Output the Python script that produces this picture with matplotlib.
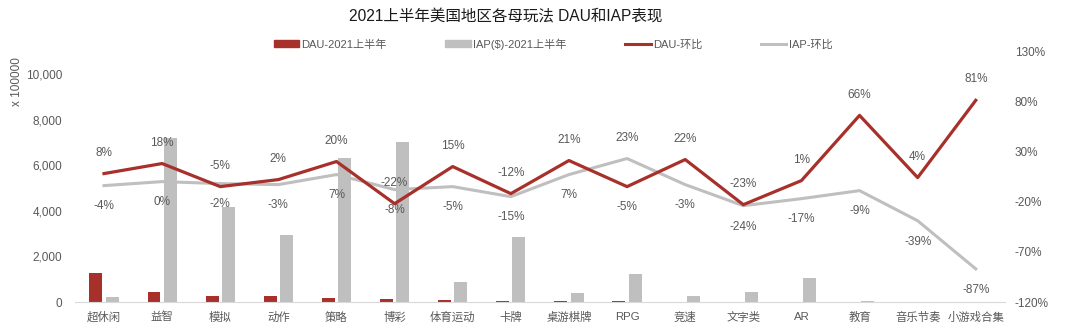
import numpy as np
import matplotlib
matplotlib.use("Agg")
import matplotlib.pyplot as plt
from matplotlib.lines import Line2D
from matplotlib.patches import Patch

plt.rcParams['font.family'] = ['Liberation Sans', 'Noto Sans CJK SC', 'DejaVu Sans']

# data
categories = ['超休闲', '益智', '模拟', '动作', '策略', '博彩', '体育运动', '卡牌',
              '桌游棋牌', 'RPG', '竞速', '文字类', 'AR', '教育', '音乐节奏', '小游戏合集']
dau = [1270, 440, 260, 250, 190, 145, 100, 50, 40, 40, 20, 10, 10, 5, 5, 3]
iap = [220, 7200, 4180, 2940, 6330, 7030, 890, 2840, 380, 1230, 280, 425, 1040, 30, 0, 0]
dau_qoq = [8, 18, -5, 2, 20, -22, 15, -12, 21, -5, 22, -23, 1, 66, 4, 81]
iap_qoq = [-4, 0, -2, -3, 7, -8, -5, -15, 7, 23, -3, -24, -17, -9, -39, -87]

red = '#A8302A'
gray = '#BFBFBF'
txt = '#595959'

fig = plt.figure(figsize=(10.8, 3.34), dpi=100)
ax = fig.add_axes([0.0694, 0.0958, 0.861, 0.751])
x = np.arange(len(categories))
w = 0.223

ax.bar(x - 0.14, dau, w, color=red, zorder=2)
ax.bar(x + 0.14, iap, w, color=gray, zorder=2)
ax.set_xlim(-0.5, 15.5)
ax.set_ylim(0, 11000)
ax.set_yticks(range(0, 10001, 2000))
ax.set_yticklabels([f'{v:,}' for v in range(0, 10001, 2000)])
ax.set_xticks(x)
ax.set_xticklabels(categories)
for s in ['top', 'right', 'left']:
    ax.spines[s].set_visible(False)
ax.spines['bottom'].set_color('#D9D9D9')
ax.tick_params(length=0, colors=txt, labelsize=8.5)
ax.tick_params(axis='y', pad=9)
ax.tick_params(axis='x', pad=7, labelsize=8.2)

ax2 = ax.twinx()
ax2.plot(x, dau_qoq, color=red, lw=2.3, zorder=4)
ax2.plot(x, iap_qoq, color=gray, lw=2.2, zorder=3)
ax2.set_ylim(-120, 130)
ax2.set_yticks(range(-120, 131, 50))
ax2.set_yticklabels([f'{v}%' for v in range(-120, 131, 50)])
for s in ['top', 'right', 'left', 'bottom']:
    ax2.spines[s].set_visible(False)
ax2.tick_params(length=0, colors=txt, labelsize=8.5, pad=7)

# label above for DAU, below for IAP, except RPG where they swap
for i in range(len(categories)):
    up = -1 if categories[i] == 'RPG' else 1
    ax2.annotate(f'{dau_qoq[i]}%', (x[i], dau_qoq[i]), xytext=(0, 15 * up),
                 textcoords='offset points', ha='center', va='center',
                 fontsize=8.5, color=txt)
    ax2.annotate(f'{iap_qoq[i]}%', (x[i], iap_qoq[i]), xytext=(0, -15 * up),
                 textcoords='offset points', ha='center', va='center',
                 fontsize=8.5, color=txt)

fig.text(0.016, 0.757, 'x 100000', rotation=90, ha='center', va='center',
         fontsize=8.5, color=txt)

fig.text(0.4685, 0.949, '2021上半年美国地区各母玩法 DAU和IAP表现', ha='center', va='center',
         fontsize=11.2, color='#1a1a1a')

handles = [Patch(color=red), Patch(color=gray),
           Line2D([], [], color=red, lw=2.2), Line2D([], [], color=gray, lw=2.2)]
labels = ['DAU-2021上半年', 'IAP($)-2021上半年', 'DAU-环比', 'IAP-环比']
fig.legend(handles, labels, loc='center', bbox_to_anchor=(0.512, 0.868), ncol=4,
           frameon=False, fontsize=8, labelcolor=txt, columnspacing=5.27,
           handlelength=2.3, handleheight=0.6, handletextpad=0.2)

fig.savefig('out.png', dpi=100)
